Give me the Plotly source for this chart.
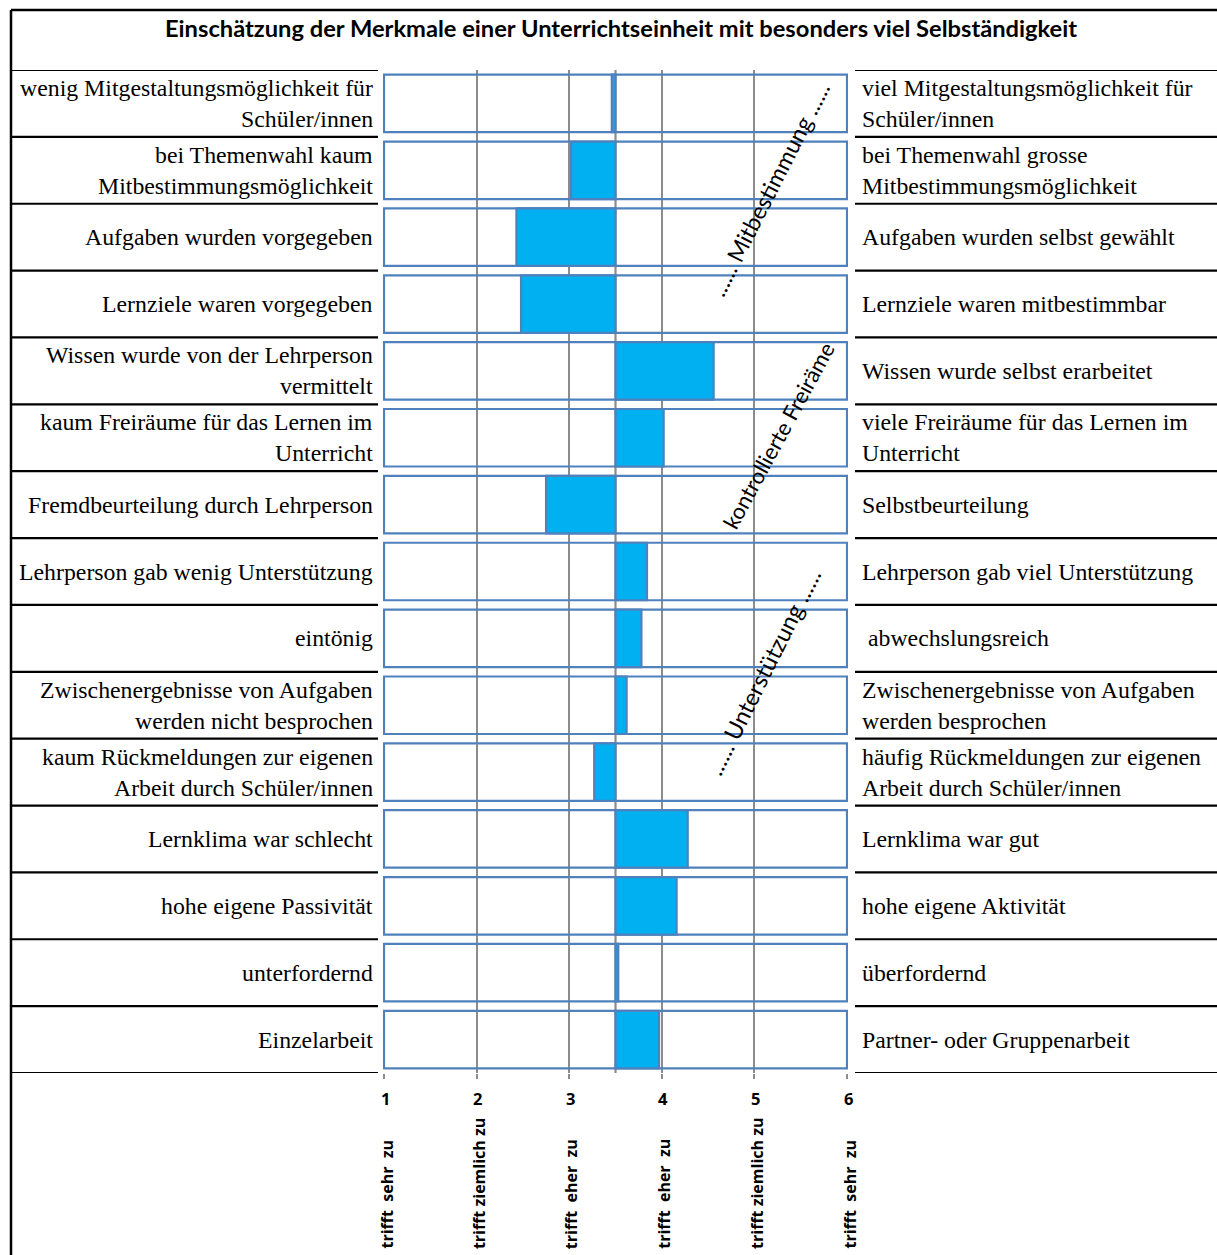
import plotly.graph_objects as go

W, H = 1217, 1255

left_labels = [
    "wenig Mitgestaltungsmöglichkeit für<br>Schüler/innen",
    "bei Themenwahl kaum<br>Mitbestimmungsmöglichkeit",
    "Aufgaben wurden vorgegeben",
    "Lernziele waren vorgegeben",
    "Wissen wurde von der Lehrperson<br>vermittelt",
    "kaum Freiräume für das Lernen im<br>Unterricht",
    "Fremdbeurteilung durch Lehrperson",
    "Lehrperson gab wenig Unterstützung",
    "eintönig",
    "Zwischenergebnisse von Aufgaben<br>werden nicht besprochen",
    "kaum Rückmeldungen zur eigenen<br>Arbeit durch Schüler/innen",
    "Lernklima war schlecht",
    "hohe eigene Passivität",
    "unterfordernd",
    "Einzelarbeit",
]
right_labels = [
    "viel Mitgestaltungsmöglichkeit für<br>Schüler/innen",
    "bei Themenwahl grosse<br>Mitbestimmungsmöglichkeit",
    "Aufgaben wurden selbst gewählt",
    "Lernziele waren mitbestimmbar",
    "Wissen wurde selbst erarbeitet",
    "viele Freiräume für das Lernen im<br>Unterricht",
    "Selbstbeurteilung",
    "Lehrperson gab viel Unterstützung",
    "\u00a0abwechslungsreich",
    "Zwischenergebnisse von Aufgaben<br>werden besprochen",
    "häufig Rückmeldungen zur eigenen<br>Arbeit durch Schüler/innen",
    "Lernklima war gut",
    "hohe eigene Aktivität",
    "überfordernd",
    "Partner- oder Gruppenarbeit",
]
values = [3.46, 3.02, 2.43, 2.48, 4.56, 4.02, 2.75, 3.84, 3.78, 3.62, 3.27, 4.28, 4.16, 3.53, 3.97]
midpoint = 3.5
scale_min, scale_max = 1, 6
tick_values = [1, 2, 3, 4, 5, 6]
tick_texts = ["trifft\u00a0\u00a0sehr\u00a0\u00a0zu", "trifft ziemlich zu", "trifft\u00a0\u00a0eher\u00a0\u00a0zu",
              "trifft\u00a0\u00a0eher\u00a0\u00a0zu", "trifft ziemlich zu", "trifft\u00a0\u00a0sehr\u00a0\u00a0zu"]
title = "Einschätzung der Merkmale einer Unterrichtseinheit mit besonders viel Selbständigkeit"
diag_texts = ["...... Mitbestimmung ......", "kontrollierte Freiräme", "...... Unterstützung ......"]

def px(x):
    return x / W

def py(y):
    return 1 - y / H

rng = [0.99, 6.01]
unit = (847 - 384) / 5
dx0 = 384 - (1 - rng[0]) * unit
dx1 = 847 + (rng[1] - 6) * unit
top, bottom = 70, 1073

fig = go.Figure()
cats = left_labels
fig.add_trace(go.Bar(
    y=cats, x=[scale_max - scale_min] * len(cats), base=scale_min, orientation="h",
    marker=dict(color="rgba(0,0,0,0)", line=dict(color="#4F81BD", width=2.2)),
    width=0.86, hoverinfo="skip", showlegend=False))
fig.add_trace(go.Bar(
    y=cats, x=[v - midpoint for v in values], base=midpoint, orientation="h",
    marker=dict(color="#00B0F0", line=dict(color="#4F81BD", width=2.2)),
    width=0.86, showlegend=False))

shapes = []
shapes.append(dict(type="line", xref="x", yref="paper", x0=midpoint, x1=midpoint,
                   y0=py(bottom), y1=py(top), line=dict(color="#8C8C8C", width=2.2), layer="below"))
shapes.append(dict(type="line", xref="paper", yref="paper", x0=px(11), x1=px(1217), y0=py(10), y1=py(10),
                   line=dict(color="black", width=2.5)))
shapes.append(dict(type="line", xref="paper", yref="paper", x0=px(11), x1=px(11), y0=py(10), y1=0,
                   line=dict(color="black", width=2.5)))
n = len(cats)
for k in range(n + 1):
    yv = k - 0.5
    shapes.append(dict(type="line", xref="paper", yref="y", x0=px(11), x1=px(378), y0=yv, y1=yv,
                       line=dict(color="black", width=2.2)))
    shapes.append(dict(type="line", xref="paper", yref="y", x0=px(855), x1=px(1217), y0=yv, y1=yv,
                       line=dict(color="black", width=2.2)))

ann = []
serif = dict(family="Liberation Serif, Times New Roman, serif", size=23.8, color="black")
for i, (l, r) in enumerate(zip(left_labels, right_labels)):
    for lab, xp, anchor in ((l, px(375), "right"), (r, px(860), "left")):
        lines = lab.split("<br>")
        m = len(lines)
        for j, line in enumerate(lines):
            shift = -((j - (m - 1) / 2) * 31)
            ann.append(dict(x=xp, xref="paper", y=cats[i], yref="y", text=line, showarrow=False,
                            xanchor=anchor, yanchor="middle", yshift=shift, font=serif))

ann.append(dict(x=px(621), y=py(28), xref="paper", yref="paper", text="<b>" + title + "</b>",
                showarrow=False, xanchor="center", yanchor="middle",
                font=dict(family="Lato, Open Sans, sans-serif", size=23.7, color="black")))

diag_pos = [(769, 189, -63, 23), (778, 435, -61.5, 22), (763, 672, -63.5, 23.5)]
for t, (cx, cy, ang, fs) in zip(diag_texts, diag_pos):
    ann.append(dict(x=px(cx), y=py(cy), xref="paper", yref="paper", text=t, showarrow=False,
                    xanchor="center", yanchor="middle", textangle=ang,
                    font=dict(family="Lato, Open Sans, sans-serif", size=fs, color="black")))

for tv, tt in zip(tick_values, tick_texts):
    ann.append(dict(x=tv, xref="x", y=py(1098), yref="paper", text="<b>%d</b>" % tv, showarrow=False,
                    xanchor="center", yanchor="middle", xshift=1,
                    font=dict(family="Open Sans, sans-serif", size=16.5, color="black")))
    ann.append(dict(x=tv, xref="x", y=py(1251), yref="paper", text="<b>" + tt + "</b>", showarrow=False,
                    textangle=-90, xanchor="center", yanchor="bottom", xshift=2,
                    font=dict(family="Open Sans, sans-serif", size=16, color="black")))

fig.update_layout(
    width=W, height=H, margin=dict(l=0, r=0, t=0, b=0),
    paper_bgcolor="white", plot_bgcolor="white",
    barmode="overlay", bargap=0.14,
    xaxis=dict(domain=[px(dx0), px(dx1)], range=rng, tickvals=tick_values, showticklabels=False,
               showgrid=True, gridcolor="#8C8C8C", gridwidth=2.2, zeroline=False,
               ticks="outside", ticklen=5, tickcolor="#8C8C8C", tickwidth=2, showline=False),
    yaxis=dict(domain=[py(bottom), py(top)], autorange=False, range=[n - 0.5, -0.5],
               showticklabels=False, showgrid=False, zeroline=False, showline=False, ticks=""),
    shapes=shapes, annotations=ann,
)

fig.write_html("out.html", config={"displayModeBar": False},
               post_script="document.body.style.margin='0';document.body.style.overflow='hidden';")
